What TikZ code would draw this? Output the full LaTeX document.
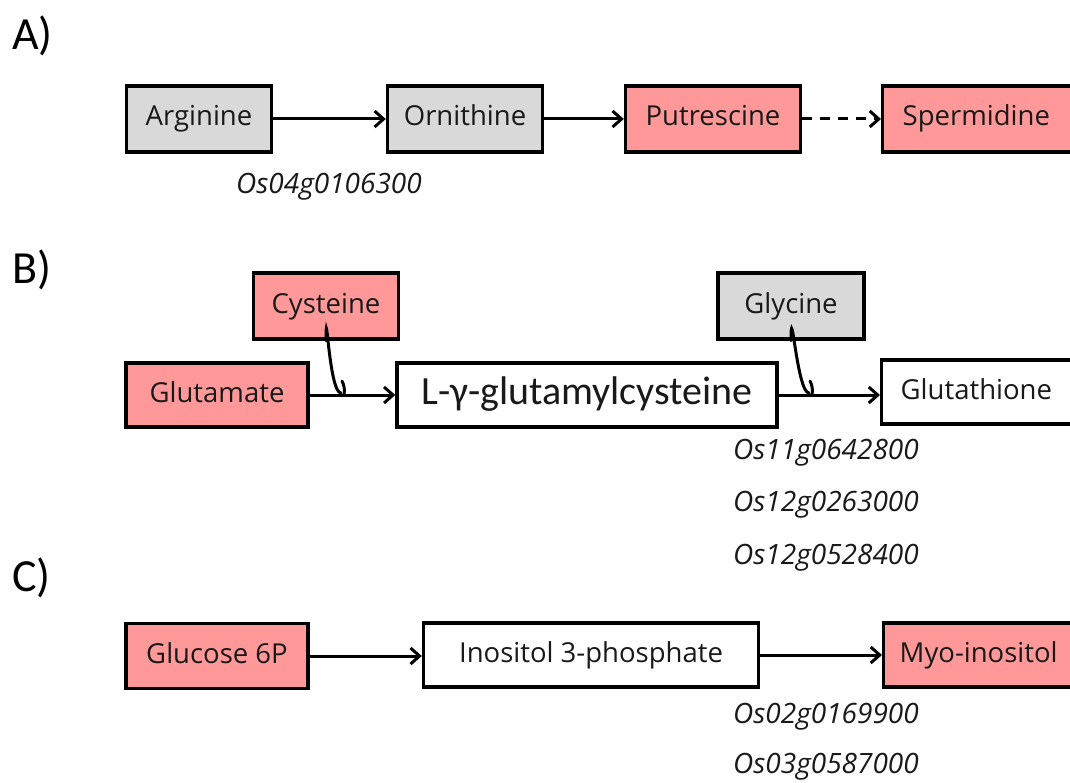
\documentclass[tikz,border=0pt]{standalone}
\usepackage{fontspec}
\setmainfont{Open Sans}
\newfontfamily\carl{Carlito}
\usetikzlibrary{arrows.meta}
\definecolor{pinkbox}{HTML}{FF9999}
\definecolor{graybox}{HTML}{D9D9D9}
\tikzset{
  box/.style={draw=black, line width=3.4pt, rectangle, inner sep=0pt, font=\fontsize{27.5}{32}\selectfont, text=black!90, text height=20pt, text depth=6pt},
  pinkb/.style={box, fill=pinkbox},
  grayb/.style={box, fill=graybox},
  whiteb/.style={box, fill=white},
  gene/.style={font=\itshape\fontsize{28}{32}\selectfont, text=black!90, inner sep=0pt},
  panel/.style={font=\carl\fontsize{46}{50}\selectfont, inner sep=0pt},
  conn/.style={line width=3pt, -{Straight Barb[length=9pt,width=16pt]}},
  hook/.style={line width=3pt, line cap=round},
}
\begin{document}
\begin{tikzpicture}[x=1pt,y=-1pt]
\useasboundingbox (0,0) rectangle (1070,783);
\clip (0,0) rectangle (1070,783);
% panel labels
\node[panel, anchor=west] (la) at (12,36) {A)};
\node[panel, anchor=west] (lb) at (12,270) {B)};
\node[panel, anchor=west] (lc) at (12,578) {C)};
% A row
\node[grayb, minimum width=145, minimum height=66] (arg) at (199,119) {Arginine};
\node[grayb, minimum width=155, minimum height=66] (orn) at (465,119) {Ornithine};
\node[pinkb, minimum width=175, minimum height=66] (put) at (713,119) {Putrescine};
\node[pinkb, minimum height=66, text width=180, align=left, inner xsep=20, anchor=west] (spe) at (881,119) {Spermidine};
\draw[conn] (arg.east) -- (orn.west);
\draw[conn] (orn.east) -- (put.west);
\draw[conn, dash pattern=on 10pt off 8pt] (put.east) -- (spe.west);
\node[gene] (g1) at (329,187) {Os04g0106300};
% B row
\node[pinkb, minimum width=145, minimum height=66] (cys) at (326,306) {Cysteine};
\node[pinkb, minimum width=182, minimum height=64] (glu) at (217,395) {Glutamate};
\node[whiteb, minimum width=380, minimum height=64, font=\carl\fontsize{40}{44}\selectfont, text height=27pt, text depth=8pt] (lgc) at (587,395) {L-γ-glutamylcysteine};
\node[grayb, minimum width=146, minimum height=66] (gly) at (791,306) {Glycine};
\node[whiteb, minimum height=64, text width=180, align=left, inner xsep=19, anchor=west] (glt) at (880,392) {Glutathione};
\draw[conn] (glu.east) -- (lgc.west);
\draw[conn] (lgc.east) -- (lgc.east -| glt.west);
\coordinate (cj) at (341,393);
\coordinate (gj) at (809,393);
\draw[hook] (cys.south) .. controls +(0,-46) and +(-12,0) .. (cj);
\draw[hook] (344,395) .. controls (345,389) and (344,385) .. (342,381);
\draw[hook] (gly.south) .. controls +(0,-46) and +(-12,0) .. (gj);
\draw[hook] (812,395) .. controls (813,389) and (812,385) .. (810,381);
\node[gene, anchor=west] (g2) at (733,453) {Os11g0642800};
\node[gene, anchor=west] (g3) at (733,505) {Os12g0263000};
\node[gene, anchor=west] (g4) at (733,558) {Os12g0528400};
% C row
\node[pinkb, minimum width=182, minimum height=65] (g6p) at (217,656) {Glucose 6P};
\node[whiteb, minimum width=335, minimum height=64] (ino) at (591,655) {Inositol 3-phosphate};
\node[pinkb, minimum height=64, text width=180, align=left, inner xsep=16, anchor=west] (myo) at (882,655) {Myo-inositol};
\draw[conn] (g6p.east) -- (g6p.east -| ino.west);
\draw[conn] (ino.east) -- (myo.west);
\node[gene, anchor=west] (g5) at (733,717) {Os02g0169900};
\node[gene, anchor=west] (g6) at (733,767) {Os03g0587000};
\end{tikzpicture}
\end{document}
